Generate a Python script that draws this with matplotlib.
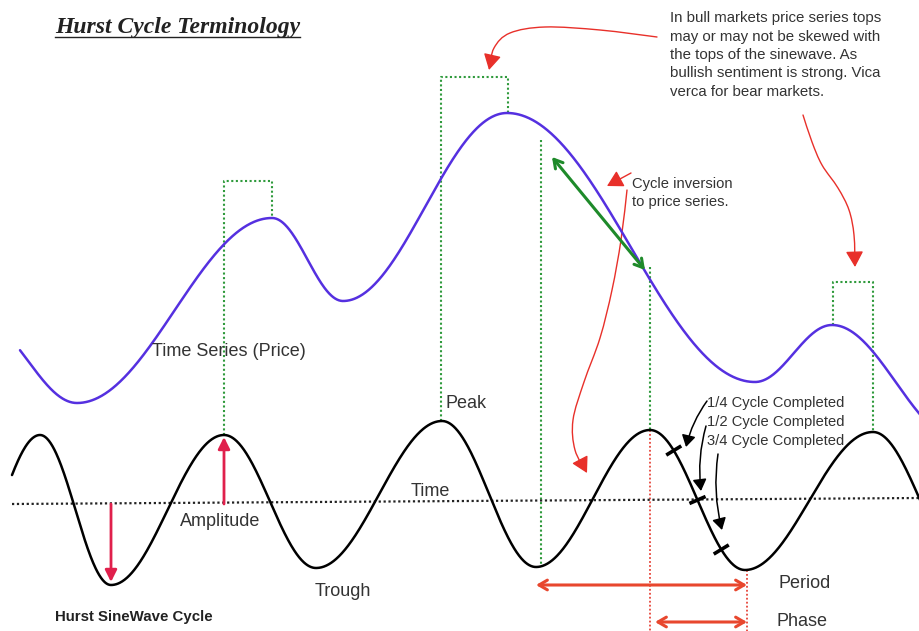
import numpy as np
import matplotlib
matplotlib.use("Agg")
import matplotlib.pyplot as plt
from matplotlib.path import Path
from matplotlib.patches import FancyArrowPatch

# Diagram drawn in pixel space of the 920x631 picture (y grows downward)

# Hurst sine wave: peaks and troughs (first/last are off-screen helpers)
sine_ext_x = [-41, 40, 111, 224, 316, 442, 536, 650, 745, 873, 968]
sine_ext_y = [585, 435, 585, 435, 568, 421, 567, 430, 570, 432, 570]
sine_span = (12, 920)

# price series: peaks and troughs
price_ext_x = [-20, 77, 272, 343, 507, 755, 832, 960]
price_ext_y = [320, 403, 218, 301, 113, 382, 325, 440]
price_span = (20, 920)

# time axis (dotted)
time_x = [12, 920]
time_y = [504, 498]

# green dotted "skew" boxes: (x_left, x_right, top, bottom_left, bottom_right)
green_boxes = [
    (224, 272, 181, 435, 218),
    (441, 508, 77, 421, 113),
    (833, 873, 282, 325, 432),
]
# single green dotted verticals: (x, top, bottom)
green_lines = [(541, 140, 567), (650, 267, 430)]
# red dotted verticals
red_lines = [(650, 430, 631), (747, 570, 631)]

# period / phase arrows
period = (536, 747, 585)
phase = (655, 747, 622)
# cycle inversion arrow
inv_arrow = [(552, 157), (645, 270)]
# amplitude arrows (x, from_y, to_y)
amp_arrows = [(111, 504, 582), (224, 504, 437)]

# quarter cycle marks between peak (650) and trough (745)
quarters = [0.25, 0.5, 0.75]
quarter_labels = ["1/4 Cycle Completed", "1/2 Cycle Completed", "3/4 Cycle Completed"]
quarter_label_y = [403, 422, 441]
quarter_arrow_from = [(707, 401), (706, 426), (718, 454)]
quarter_arrow_to = [(686, 447), (701, 491), (722, 530)]

# red hand-drawn pointers
red_curves = [
    [(657, 37), (600, 30), (545, 27), (510, 33), (494, 48), (489, 70)],
    [(803, 115), (812, 142), (822, 165), (838, 188), (849, 210), (854, 235), (855, 267)],
    [(631, 173), (607, 186)],
    [(627, 190), (621, 240), (612, 290), (600, 338), (584, 382), (573, 420), (575, 450), (587, 473)],
]

note_text = ("In bull markets price series tops\nmay or may not be skewed with\n"
             "the tops of the sinewave. As\nbullish sentiment is strong. Vica\n"
             "verca for bear markets.")


def wave(xs, ex_x, ex_y):
    ys = np.full(xs.shape, np.nan)
    for i in range(len(ex_x) - 1):
        m = (xs >= ex_x[i]) & (xs <= ex_x[i + 1])
        t = (xs[m] - ex_x[i]) / (ex_x[i + 1] - ex_x[i])
        ys[m] = ex_y[i] + (ex_y[i + 1] - ex_y[i]) * (1 - np.cos(np.pi * t)) / 2
    return ys


def smooth_path(pts):
    # catmull-rom through the points, as cubic bezier segments
    p = np.array(pts, dtype=float)
    if len(p) < 3:
        return Path(p)
    q = np.vstack([p[0], p, p[-1]])
    verts = [p[0]]
    codes = [Path.MOVETO]
    for i in range(1, len(q) - 2):
        c1 = q[i] + (q[i + 1] - q[i - 1]) / 6
        c2 = q[i + 1] - (q[i + 2] - q[i]) / 6
        verts += [c1, c2, q[i + 1]]
        codes += [Path.CURVE4] * 3
    return Path(verts, codes)


fig = plt.figure(figsize=(9.2, 6.31), dpi=100)
ax = fig.add_axes([0, 0, 1, 1])
ax.set_xlim(0, 920)
ax.set_ylim(631, 0)
ax.axis("off")

green = "#2f9a3c"
red_dot = "#e6453a"
dots = (0, (1, 1.2))

for xl, xr, top, bl, br in green_boxes:
    ax.plot([xl, xl, xr, xr], [bl, top, top, br], color=green, lw=1.5, ls=dots)
for x, t, b in green_lines:
    ax.plot([x, x], [t, b], color=green, lw=1.5, ls=dots)
for x, t, b in red_lines:
    ax.plot([x, x], [t, b], color=red_dot, lw=1.3, ls=dots)

ax.plot(time_x, time_y, color="#222222", lw=1.6, ls=dots)

xs = np.linspace(sine_span[0], sine_span[1], 1500)
ax.plot(xs, wave(xs, sine_ext_x, sine_ext_y), color="black", lw=1.8, solid_capstyle="round")

xp = np.linspace(price_span[0], price_span[1], 1500)
ax.plot(xp, wave(xp, price_ext_x, price_ext_y), color="#5530e0", lw=1.8, solid_capstyle="round")

# quarter marks
p0, p1 = sine_ext_x.index(650), sine_ext_x.index(745)
for q in quarters:
    qx = sine_ext_x[p0] + q * (sine_ext_x[p1] - sine_ext_x[p0])
    qy = wave(np.array([qx]), sine_ext_x, sine_ext_y)[0]
    dy = wave(np.array([qx + 0.5]), sine_ext_x, sine_ext_y)[0] - wave(np.array([qx - 0.5]), sine_ext_x, sine_ext_y)[0]
    d = np.array([1.0, dy]) / np.hypot(1.0, dy)
    n = np.array([d[1], -d[0]]) * 7
    ax.plot([qx - n[0], qx + n[0]], [qy - n[1], qy + n[1]], color="black", lw=2.6)

for lab, ly in zip(quarter_labels, quarter_label_y):
    ax.text(707, ly, lab, fontsize=10.6, color="#333333", va="center", ha="left",
            family="Liberation Sans")
for a, b in zip(quarter_arrow_from, quarter_arrow_to):
    ax.annotate("", xy=b, xytext=a,
                arrowprops=dict(arrowstyle="-|>,head_length=0.5,head_width=0.3", color="black", lw=1.1,
                                mutation_scale=14, shrinkA=0, shrinkB=0,
                                connectionstyle="arc3,rad=0.1"))

# period / phase / inversion arrows
for x0, x1, y in (period, phase):
    ax.annotate("", xy=(x1, y), xytext=(x0, y),
                arrowprops=dict(arrowstyle="<->,head_length=0.6,head_width=0.35",
                                color="#e8472e", lw=2.2, shrinkA=0, shrinkB=0))
ax.annotate("", xy=inv_arrow[1], xytext=inv_arrow[0],
            arrowprops=dict(arrowstyle="<->,head_length=0.6,head_width=0.35",
                            color="#1e8a2a", lw=2.2, shrinkA=0, shrinkB=0))

for x, y0, y1 in amp_arrows:
    ax.annotate("", xy=(x, y1), xytext=(x, y0),
                arrowprops=dict(arrowstyle="-|>,head_length=0.7,head_width=0.35",
                                color="#e0204c", lw=2.0, shrinkA=0, shrinkB=0))

# red pointers
for pts in red_curves:
    arr = FancyArrowPatch(path=smooth_path(pts), arrowstyle="-|>,head_length=0.8,head_width=0.45",
                          color="#e8302a", lw=1.0, mutation_scale=12)
    ax.add_patch(arr)

# texts
title = ax.text(55, 27, "Hurst Cycle Terminology", fontsize=17, fontweight="bold", fontstyle="italic",
                family="Liberation Serif", color="#222222", va="center", ha="left")
fig.canvas.draw()
bb = title.get_window_extent().transformed(ax.transData.inverted())
ax.plot([55, bb.x1], [37, 37], color="#222222", lw=1.0)

ax.text(670, 55, note_text, fontsize=10.8, color="#333333", va="center", ha="left",
        linespacing=1.4, family="Liberation Sans")
ax.text(632, 193, "Cycle inversion\nto price series.", fontsize=10.6, color="#333333",
        va="center", ha="left", linespacing=1.3, family="Liberation Sans")

sans = dict(fontsize=13, color="#333333", va="center", ha="left", family="Liberation Sans")
ax.text(152, 352, "Time Series (Price)", **sans)
ax.text(446, 403, "Peak", **sans)
ax.text(411, 491, "Time", **sans)
ax.text(180, 522, "Amplitude", **sans)
ax.text(315, 592, "Trough", **sans)
ax.text(779, 584, "Period", **sans)
ax.text(777, 622, "Phase", **sans)
ax.text(55, 617, "Hurst SineWave Cycle", fontsize=10.8, fontweight="bold", color="#222222",
        va="center", ha="left", family="Liberation Sans")

fig.savefig("out.png", dpi=100)
